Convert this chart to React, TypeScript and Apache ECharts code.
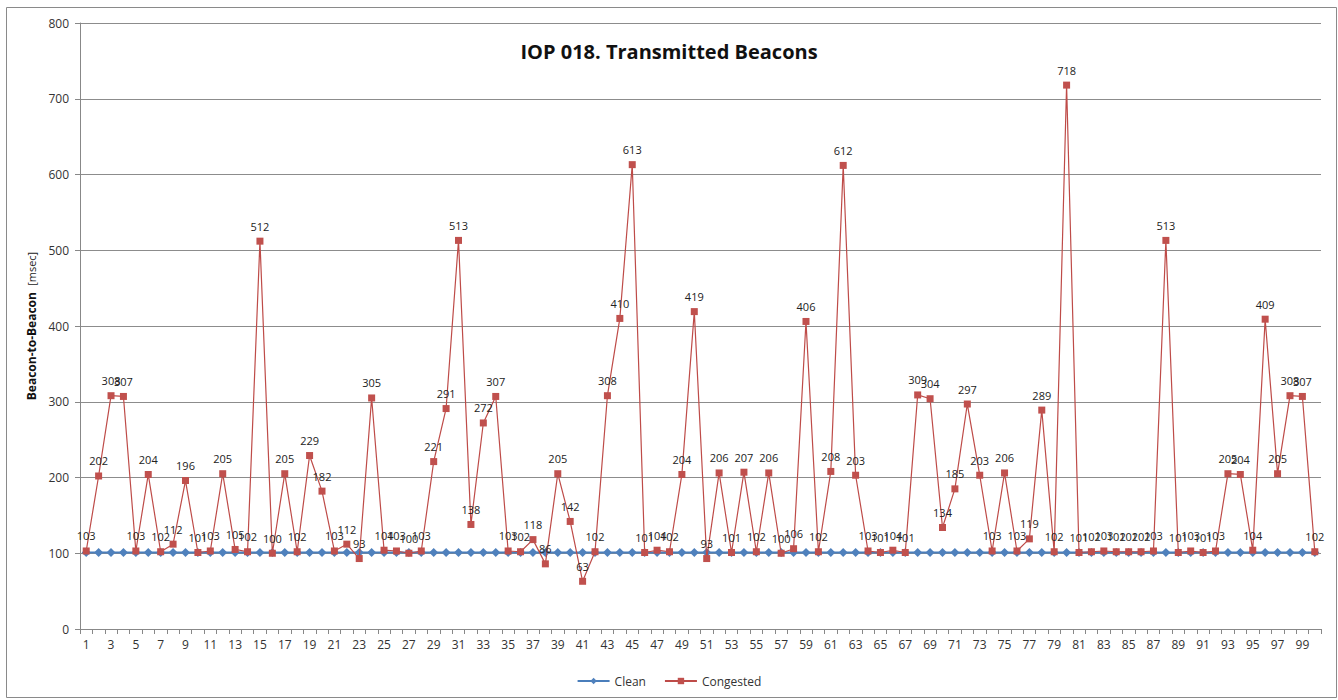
import React, { useEffect, useRef } from "react";
import * as echarts from "echarts";

const categories: string[] = [];
for (let i = 1; i <= 100; i++) categories.push(String(i));

const cleanValues = [
  101, 101, 101, 101, 101, 101, 101, 101, 101, 101,
  101, 101, 101, 101, 101, 101, 101, 101, 101, 101,
  101, 101, 101, 101, 101, 101, 101, 101, 101, 101,
  101, 101, 101, 101, 101, 101, 101, 101, 101, 101,
  101, 101, 101, 101, 101, 101, 101, 101, 101, 101,
  101, 101, 101, 101, 101, 101, 101, 101, 101, 101,
  101, 101, 101, 101, 101, 101, 101, 101, 101, 101,
  101, 101, 101, 101, 101, 101, 101, 101, 101, 101,
  101, 101, 101, 101, 101, 101, 101, 101, 101, 101,
  101, 101, 101, 101, 101, 101, 101, 101, 101, 101,
];

const congestedValues = [
  103, 202, 308, 307, 103, 204, 102, 112, 196, 101,
  103, 205, 105, 102, 512, 100, 205, 102, 229, 182,
  103, 112, 93, 305, 104, 103, 100, 103, 221, 291,
  513, 138, 272, 307, 103, 102, 118, 86, 205, 142,
  63, 102, 308, 410, 613, 101, 104, 102, 204, 419,
  93, 206, 101, 207, 102, 206, 100, 106, 406, 102,
  208, 612, 203, 103, 101, 104, 101, 309, 304, 134,
  185, 297, 203, 103, 206, 103, 119, 289, 102, 718,
  101, 102, 103, 102, 102, 102, 103, 513, 101, 103,
  101, 103, 205, 204, 104, 409, 205, 308, 307, 102,
];

const yTicks = { min: 0, max: 800, interval: 100 };

const FONT = "'Open Sans', 'Liberation Sans', sans-serif";

export default function App() {
  const ref = useRef<HTMLDivElement>(null);
  useEffect(() => {
    if (!ref.current) return;
    const chart = echarts.init(ref.current, null, { renderer: "svg" });
    chart.setOption({
      animation: false,
      backgroundColor: "#ffffff",
      textStyle: { fontFamily: FONT },
      title: {
        text: "IOP 018. Transmitted Beacons",
        left: "center",
        top: 36,
        textStyle: { fontSize: 20, fontWeight: "bold", color: "#111", fontFamily: FONT },
      },
      graphic: [
        {
          type: "rect",
          shape: { x: 6.5, y: 7.5, width: 1330, height: 690 },
          style: { fill: "none", stroke: "#8a8a8a", lineWidth: 1 },
          silent: true,
        },
      ],
      legend: {
        bottom: 8,
        left: "center",
        itemWidth: 32,
        itemHeight: 8,
        itemGap: 18,
        textStyle: { fontSize: 12, color: "#333", fontFamily: FONT },
        data: ["Clean", "Congested"],
      },
      grid: { left: 80, right: 17, top: 23, bottom: 71, containLabel: false },
      xAxis: {
        type: "category",
        data: categories,
        boundaryGap: true,
        axisLine: { lineStyle: { color: "#888", width: 1 } },
        axisTick: { show: true, interval: 0, length: 5, lineStyle: { color: "#888" } },
        axisLabel: { interval: 1, fontSize: 12, color: "#333", margin: 9, fontFamily: FONT },
        splitLine: { show: false },
      },
      yAxis: {
        type: "value",
        min: yTicks.min,
        max: yTicks.max,
        interval: yTicks.interval,
        name: "{b|Beacon-to-Beacon}  {n|[msec]}",
        nameLocation: "middle",
        nameGap: 43,
        nameRotate: 90,
        nameTextStyle: {
          rich: {
            b: { fontSize: 12, fontWeight: "bold", color: "#111", fontFamily: FONT },
            n: { fontSize: 11, color: "#222", fontFamily: FONT },
          },
        },
        axisLine: { show: true, lineStyle: { color: "#888", width: 1 } },
        axisTick: { show: true, length: 5, lineStyle: { color: "#888" } },
        axisLabel: { fontSize: 12, color: "#333", margin: 11, fontFamily: FONT },
        splitLine: { show: true, lineStyle: { color: "#8c8c8c", width: 1 } },
      },
      series: [
        {
          name: "Clean",
          type: "line",
          data: cleanValues,
          symbol: "diamond",
          symbolSize: 9,
          showAllSymbol: true,
          itemStyle: { color: "#4f81bd" },
          lineStyle: { color: "#4a7ebb", width: 2 },
          z: 2,
        },
        {
          name: "Congested",
          type: "line",
          data: congestedValues,
          symbol: "rect",
          symbolSize: 7,
          showAllSymbol: true,
          itemStyle: { color: "#c0504d" },
          lineStyle: { color: "#be4b48", width: 1.2 },
          label: {
            show: true,
            position: "top",
            distance: 6,
            fontSize: 11,
            color: "#222",
            fontFamily: FONT,
          },
          z: 3,
        },
      ],
    });
    return () => chart.dispose();
  }, []);
  return (
    <div
      ref={ref}
      style={{ position: "absolute", left: 0, top: 0, width: 1338, height: 700 }}
    />
  );
}
